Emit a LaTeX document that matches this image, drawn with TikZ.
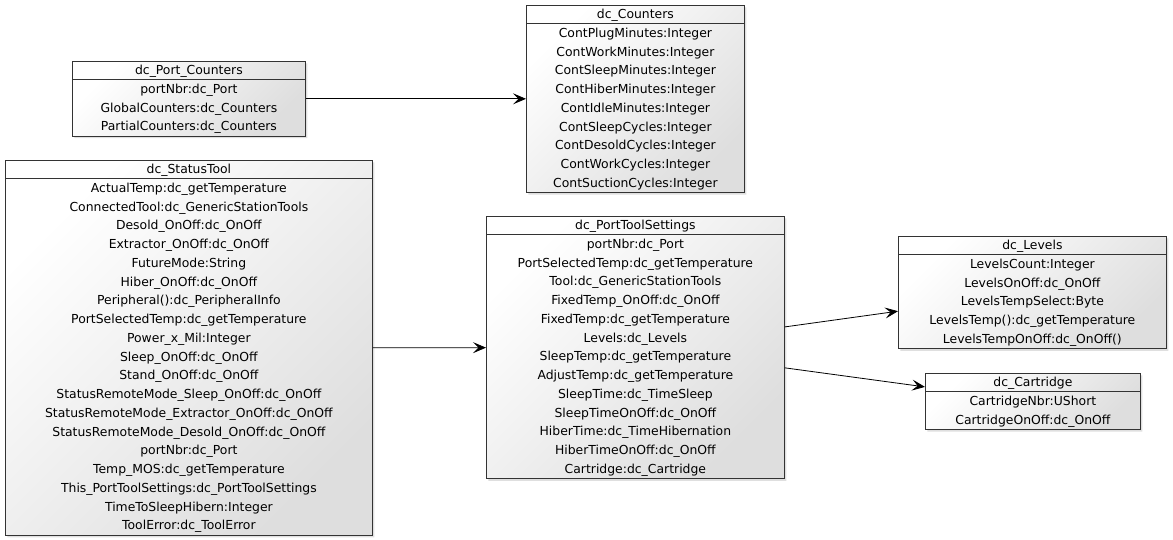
\documentclass[tikz,border=0pt]{standalone}
\usepackage{fontspec}
\setmainfont{DejaVu Sans}
\usetikzlibrary{shapes.multipart,shadows,arrows.meta}

\newcommand{\hs}{\rule[-4.1pt]{0pt}{17pt}}
\newcommand{\rw}{\rule[-5pt]{0pt}{18.75pt}}

\begin{document}
\begin{tikzpicture}[
    x=1pt, y=-1pt,
    every node/.style={anchor=north west},
    umlclass/.style={rectangle split, rectangle split parts=2,
      draw=black!80, line width=0.8pt,
      top color=white, bottom color=black!13, shading angle=45,
      drop shadow={shadow xshift=2pt, shadow yshift=-2pt, opacity=0.25},
      inner xsep=3pt, inner ysep=0pt, align=center,
      font=\fontsize{12.4}{18.75}\selectfont},
    assoc/.style={-{Stealth[length=13pt,width=11pt,inset=5.5pt]}, line width=0.8pt},
]
\useasboundingbox (0,0) rectangle (1173,540);
% classes
\node [umlclass, minimum width=233pt] (portcounters) at (72,61) {\hs dc\_Port\_Counters
  \nodepart{second}\rw portNbr:dc\_Port\\
  GlobalCounters:dc\_Counters\\
  PartialCounters:dc\_Counters\rw};
\node [umlclass, minimum width=218pt] (counters) at (526,5) {\hs dc\_Counters
  \nodepart{second}\rw ContPlugMinutes:Integer\\
  ContWorkMinutes:Integer\\
  ContSleepMinutes:Integer\\
  ContHiberMinutes:Integer\\
  ContIdleMinutes:Integer\\
  ContSleepCycles:Integer\\
  ContDesoldCycles:Integer\\
  ContWorkCycles:Integer\\
  ContSuctionCycles:Integer\rw};
\node [umlclass, minimum width=367pt] (statustool) at (5,160) {\hs dc\_StatusTool
  \nodepart{second}\rw ActualTemp:dc\_getTemperature\\
  ConnectedTool:dc\_GenericStationTools\\
  Desold\_OnOff:dc\_OnOff\\
  Extractor\_OnOff:dc\_OnOff\\
  FutureMode:String\\
  Hiber\_OnOff:dc\_OnOff\\
  Peripheral():dc\_PeripheralInfo\\
  PortSelectedTemp:dc\_getTemperature\\
  Power\_x\_Mil:Integer\\
  Sleep\_OnOff:dc\_OnOff\\
  Stand\_OnOff:dc\_OnOff\\
  StatusRemoteMode\_Sleep\_OnOff:dc\_OnOff\\
  StatusRemoteMode\_Extractor\_OnOff:dc\_OnOff\\
  StatusRemoteMode\_Desold\_OnOff:dc\_OnOff\\
  portNbr:dc\_Port\\
  Temp\_MOS:dc\_getTemperature\\
  This\_PortToolSettings:dc\_PortToolSettings\\
  TimeToSleepHibern:Integer\\
  ToolError:dc\_ToolError\rw};
\node [umlclass, minimum width=298pt] (pts) at (486,216) {\hs dc\_PortToolSettings
  \nodepart{second}\rw portNbr:dc\_Port\\
  PortSelectedTemp:dc\_getTemperature\\
  Tool:dc\_GenericStationTools\\
  FixedTemp\_OnOff:dc\_OnOff\\
  FixedTemp:dc\_getTemperature\\
  Levels:dc\_Levels\\
  SleepTemp:dc\_getTemperature\\
  AdjustTemp:dc\_getTemperature\\
  SleepTime:dc\_TimeSleep\\
  SleepTimeOnOff:dc\_OnOff\\
  HiberTime:dc\_TimeHibernation\\
  HiberTimeOnOff:dc\_OnOff\\
  Cartridge:dc\_Cartridge\rw};
\node [umlclass, minimum width=268pt] (levels) at (898,236) {\hs dc\_Levels
  \nodepart{second}\rw LevelsCount:Integer\\
  LevelsOnOff:dc\_OnOff\\
  LevelsTempSelect:Byte\\
  LevelsTemp():dc\_getTemperature\\
  LevelsTempOnOff:dc\_OnOff()\rw};
\node [umlclass, minimum width=215pt] (cartridge) at (925,373) {\hs dc\_Cartridge
  \nodepart{second}\rw CartridgeNbr:UShort\\
  CartridgeOnOff:dc\_OnOff\rw};
% associations
\draw [assoc] (portcounters.east) -- (counters.west |- portcounters.east);
\draw [assoc] (statustool) -- (pts);
\draw [assoc] (pts) -- (levels);
\draw [assoc] (pts) -- (cartridge);
\end{tikzpicture}
\end{document}
